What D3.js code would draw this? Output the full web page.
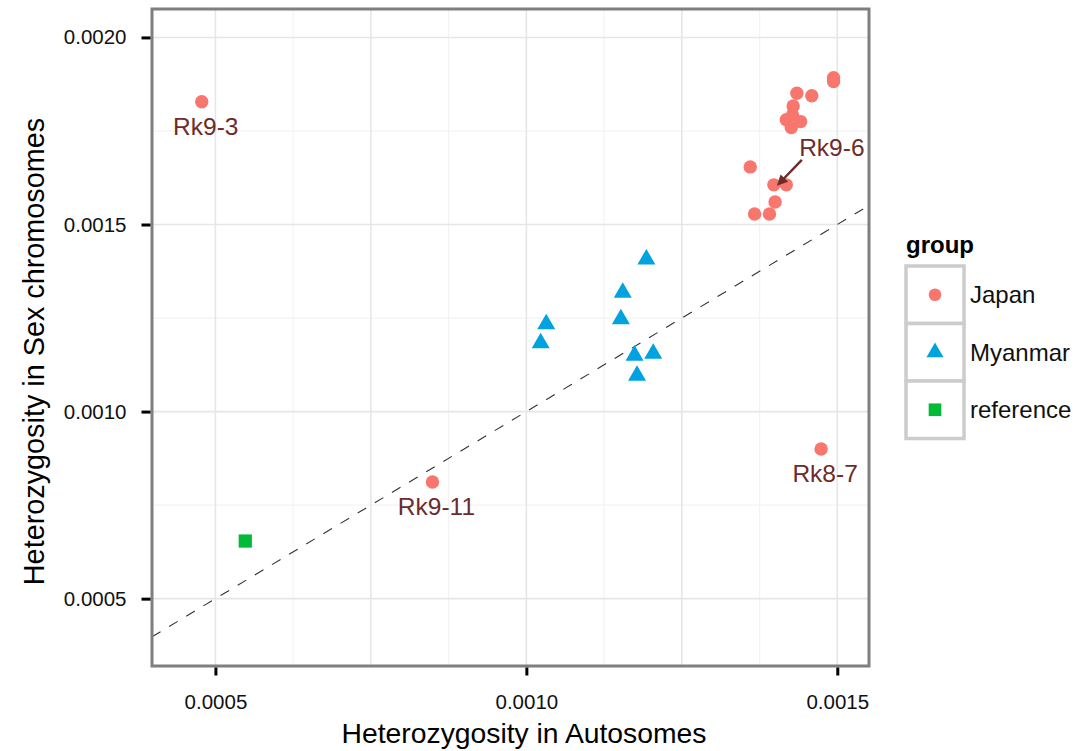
<!DOCTYPE html>
<html>
<head>
<meta charset="utf-8">
<script src="https://cdn.jsdelivr.net/npm/d3@7"></script>
<style>
  body { margin: 0; background: #fff; }
  svg { font-family: Helvetica, Arial, "Liberation Sans", sans-serif; }
</style>
</head>
<body>
<div id="chart"></div>
<script>
// values
const japanNames = ["Rk9-3", "Rk9-11", "Rk8-7", "Rk9-6", "", "", "", "", "", "", "", "", "", "", "", "", "", ""];
const japanAuto = [0.000478, 0.000849, 0.001474, 0.001398, 0.001494, 0.001494, 0.001435, 0.001459, 0.001429,
                   0.001428, 0.001418, 0.001441, 0.001426, 0.001360, 0.001418, 0.001400, 0.001367, 0.001391];
const japanSex = [0.001828, 0.000812, 0.000900, 0.001606, 0.001892, 0.001882, 0.001851, 0.001844, 0.001817,
                  0.001793, 0.001780, 0.001775, 0.001759, 0.001654, 0.001606, 0.001560, 0.001528, 0.001528];
const myanmarAuto = [0.001193, 0.001155, 0.001152, 0.001032, 0.001023, 0.001174, 0.001204, 0.001178];
const myanmarSex = [0.001407, 0.001318, 0.001247, 0.001234, 0.001183, 0.001150, 0.001155, 0.001096];
const referenceAuto = [0.000548];
const referenceSex = [0.000654];
const groups = ["Japan", "Myanmar", "reference"];
const xTicks = [0.0005, 0.0010, 0.0015];
const yTicks = [0.0005, 0.0010, 0.0015, 0.0020];

const W = 1088, H = 751;
const panel = { left: 152, right: 869, top: 9, bottom: 666 };
const colors = { Japan: "#f8766d", Myanmar: "#00a3df", reference: "#00ba38" };
const labelColor = "#6d2b2b";

let points = [];
japanAuto.forEach((v, i) => points.push({ group: "Japan", x: v, y: japanSex[i], name: japanNames[i] }));
myanmarAuto.forEach((v, i) => points.push({ group: "Myanmar", x: v, y: myanmarSex[i], name: "" }));
referenceAuto.forEach((v, i) => points.push({ group: "reference", x: v, y: referenceSex[i], name: "" }));

const svg = d3.select("#chart").append("svg")
    .attr("width", W)
    .attr("height", H);

const x = d3.scaleLinear().domain([0.000398, 0.001551]).range([panel.left, panel.right]);
const y = d3.scaleLinear().domain([0.00032, 0.002076]).range([panel.bottom, panel.top]);

const shape = d3.scaleOrdinal().domain(groups)
    .range([d3.symbolCircle, d3.symbolTriangle, d3.symbolSquare]);
const shapeSize = { Japan: 142, Myanmar: 140, reference: 175 };

// grid: minor first, then major
const grid = svg.append("g");
const xMinor = d3.range(0.000625, 0.00155, 0.00025);
const xMajor = d3.range(0.0005, 0.00155, 0.00025);
const yMinor = d3.range(0.00075, 0.00207, 0.0005);
grid.selectAll(".xminor").data(xMinor).join("line")
    .attr("x1", d => x(d)).attr("x2", d => x(d))
    .attr("y1", panel.top).attr("y2", panel.bottom)
    .attr("stroke", "#f3f3f3").attr("stroke-width", 1.2);
grid.selectAll(".yminor").data(yMinor).join("line")
    .attr("y1", d => y(d)).attr("y2", d => y(d))
    .attr("x1", panel.left).attr("x2", panel.right)
    .attr("stroke", "#f3f3f3").attr("stroke-width", 1.2);
grid.selectAll(".xmajor").data(xMajor).join("line")
    .attr("x1", d => x(d)).attr("x2", d => x(d))
    .attr("y1", panel.top).attr("y2", panel.bottom)
    .attr("stroke", "#e6e6e6").attr("stroke-width", 1.6);
grid.selectAll(".ymajor").data(yTicks).join("line")
    .attr("y1", d => y(d)).attr("y2", d => y(d))
    .attr("x1", panel.left).attr("x2", panel.right)
    .attr("stroke", "#e6e6e6").attr("stroke-width", 1.6);

// y = x reference line
const lineEnd = Math.min(x.domain()[1], y.domain()[1]);
svg.append("line")
    .attr("x1", x(x.domain()[0])).attr("y1", y(x.domain()[0]))
    .attr("x2", x(lineEnd)).attr("y2", y(lineEnd))
    .attr("stroke", "#333").attr("stroke-width", 1.1)
    .attr("stroke-dasharray", "10,10");

// points
svg.append("g").selectAll("path").data(points).join("path")
    .attr("transform", d => `translate(${x(d.x)},${y(d.y)})`)
    .attr("d", d => d3.symbol().type(shape(d.group)).size(shapeSize[d.group])())
    .attr("fill", d => colors[d.group]);

// labels
const labelled = points.filter(d => d.name !== "");
labelled.forEach(d => {
    if (d.name === "Rk9-6") {
        const lx = x(d.x) + 58, ly = y(d.y) - 29;
        svg.append("text").attr("x", lx).attr("y", ly)
            .attr("text-anchor", "middle").attr("font-size", 24.5)
            .attr("fill", labelColor).text(d.name);
        const sx = lx - 30, sy = ly + 4, ex = x(d.x) + 3, ey = y(d.y) + 1;
        const ang = Math.atan2(ey - sy, ex - sx);
        svg.append("line").attr("x1", sx).attr("y1", sy).attr("x2", ex - 6 * Math.cos(ang)).attr("y2", ey - 6 * Math.sin(ang))
            .attr("stroke", labelColor).attr("stroke-width", 2.4);
        const ah = 12, aw = 0.45;
        svg.append("path")
            .attr("d", `M${ex},${ey}L${ex - ah * Math.cos(ang - aw)},${ey - ah * Math.sin(ang - aw)}L${ex - ah * Math.cos(ang + aw)},${ey - ah * Math.sin(ang + aw)}Z`)
            .attr("fill", labelColor);
    } else {
        svg.append("text").attr("x", x(d.x) + 4).attr("y", y(d.y) + 33)
            .attr("text-anchor", "middle").attr("font-size", 24.5)
            .attr("fill", labelColor).text(d.name);
    }
});

// panel border
svg.append("rect")
    .attr("x", panel.left).attr("y", panel.top)
    .attr("width", panel.right - panel.left).attr("height", panel.bottom - panel.top)
    .attr("fill", "none").attr("stroke", "#7f7f7f").attr("stroke-width", 3);

// axes
const fmt = d3.format(".4f");
const xAxis = svg.append("g")
    .attr("transform", `translate(0,${panel.bottom + 1.5})`)
    .call(d3.axisBottom(x).tickValues(xTicks).tickFormat(fmt).tickSize(8).tickPadding(19));
const yAxis = svg.append("g")
    .attr("transform", `translate(${panel.left - 1.5},0)`)
    .call(d3.axisLeft(y).tickValues(yTicks).tickFormat(fmt).tickSize(9).tickPadding(15));
[xAxis, yAxis].forEach(a => {
    a.select(".domain").remove();
    a.selectAll(".tick line").attr("stroke", "#000").attr("stroke-width", 3);
    a.selectAll(".tick text").attr("font-size", 20.5).attr("fill", "#111")
        .attr("font-family", "Helvetica, Arial, 'Liberation Sans', sans-serif");
});

// axis titles
svg.append("text").attr("x", 524).attr("y", 743)
    .attr("text-anchor", "middle").attr("font-size", 28.3).attr("fill", "#000")
    .text("Heterozygosity in Autosomes");
svg.append("text")
    .attr("transform", `translate(44,${(panel.top + panel.bottom) / 2 + 14}) rotate(-90)`)
    .attr("text-anchor", "middle").attr("font-size", 28.8).attr("fill", "#000")
    .text("Heterozygosity in Sex chromosomes");

// legend
const legend = svg.append("g").attr("transform", "translate(906,0)");
legend.append("text").attr("x", 0).attr("y", 253)
    .attr("font-size", 24).attr("font-weight", "bold").text("group");
const keyH = 57.5, keyW = 58, keyTop = 266;
const keys = legend.selectAll("g.key").data(groups).join("g")
    .attr("transform", (d, i) => `translate(0,${keyTop + i * keyH})`);
keys.append("rect").attr("width", keyW).attr("height", keyH)
    .attr("fill", "#fff").attr("stroke", "#cccccc").attr("stroke-width", 3.5);
keys.append("path")
    .attr("transform", `translate(${keyW / 2},${keyH / 2})`)
    .attr("d", d => d3.symbol().type(shape(d)).size(d === "reference" ? 160 : 125)())
    .attr("fill", d => colors[d]);
keys.append("text").attr("x", 64).attr("y", keyH / 2).attr("dy", "0.36em")
    .attr("font-size", 24).attr("fill", "#111").text(d => d);
</script>
</body>
</html>
